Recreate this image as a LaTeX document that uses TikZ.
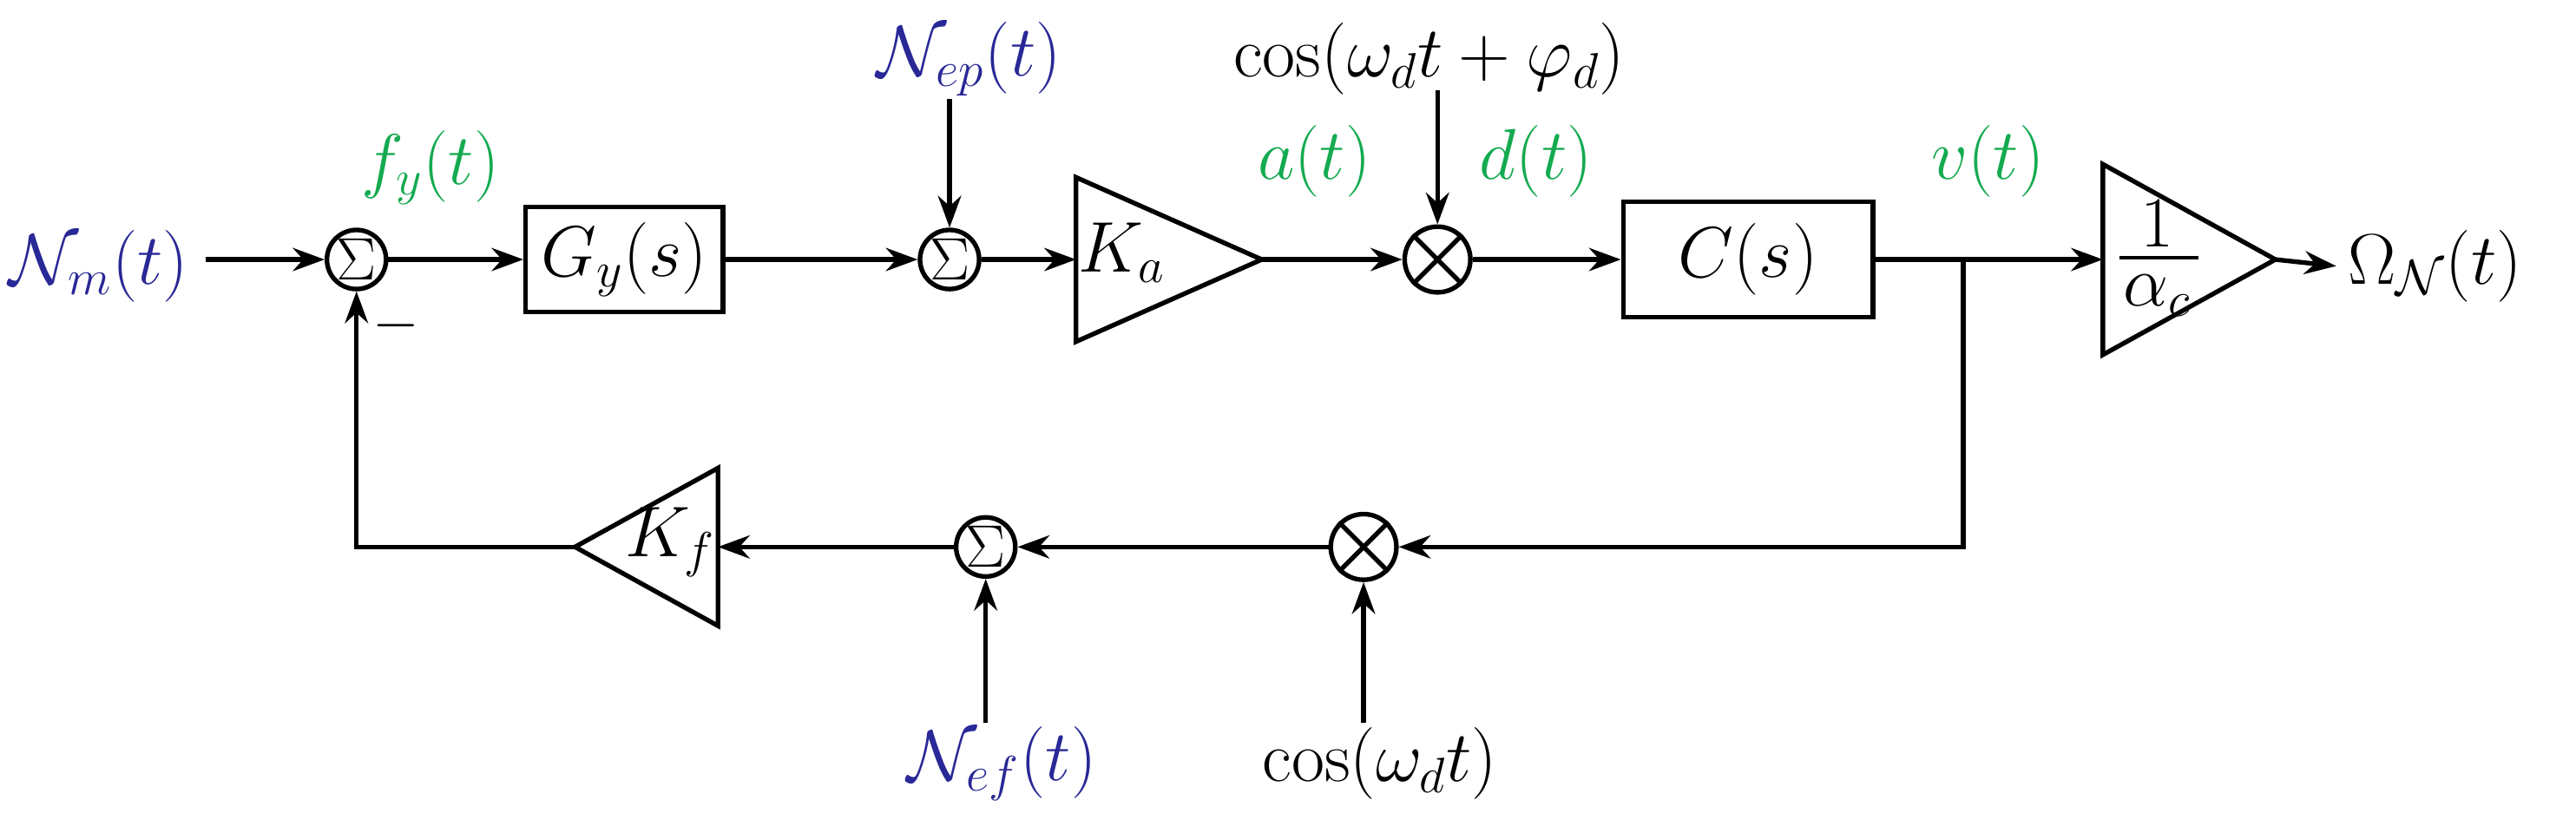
\documentclass[tikz,border=0pt]{standalone}
\usetikzlibrary{arrows.meta}
\definecolor{nb}{RGB}{40,40,150}
\definecolor{gr}{RGB}{20,170,80}
\begin{document}
\begin{tikzpicture}[x=0.02cm,y=-0.02cm,
  line width=1.6pt,
  >={Stealth[length=11pt,width=8pt]},
  lab/.style={font=\fontsize{25}{30}\selectfont},
  sumc/.style={circle,draw,minimum size=36*0.02cm,inner sep=0pt,font=\fontsize{22}{24}\selectfont},
  mulc/.style={circle,draw,minimum size=40*0.02cm,inner sep=0pt},
  blk/.style={draw,minimum width=120*0.02cm,minimum height=64*0.02cm,font=\fontsize{25}{30}\selectfont}]
\useasboundingbox (0,0) rectangle (1568,499);
% nodes
\node[sumc] (s1) at (217,158) {$\Sigma$};
\node[blk] (G) at (380,158) {$G_y(s)$};
\node[sumc] (s2) at (578,158) {$\Sigma$};
\draw (655,108) -- (768,158) -- (655,208) -- cycle;
\coordinate (kain) at (655,158); \coordinate (kaout) at (768,158);
\node[lab] (ka) at (683,154) {$K_a$};
\node[mulc] (m1) at (875,158) {};
\draw (m1.north west) -- (m1.south east) (m1.north east) -- (m1.south west);
\node[blk,minimum width=152*0.02cm,minimum height=70*0.02cm] (C) at (1064,158) {$C(s)$};
\draw (1280,100) -- (1385,158) -- (1280,216) -- cycle;
\coordinate (ain) at (1280,158); \coordinate (aout) at (1385,158);
\node[lab] (one) at (1313,136) {$1$};
\node[lab] (alc) at (1313,180) {$\alpha_c$};
\draw[line width=1.3pt] (1290,157) -- (1338,157);
\coordinate (j) at (1195,158);
\node[mulc] (m2) at (830,333) {};
\draw (m2.north west) -- (m2.south east) (m2.north east) -- (m2.south west);
\node[sumc] (s3) at (600,333) {$\Sigma$};
\draw (437,285) -- (350,333) -- (437,381) -- cycle;
\coordinate (kfin) at (437,333); \coordinate (kfout) at (350,333);
\node[lab] (kf) at (408,330) {$K_f$};
% labels
\node[lab,text=nb] (nm) at (60,162) {$\mathcal{N}_m(t)$};
\node[lab,text=gr] (fy) at (262,102) {$f_y(t)$};
\node[lab,text=nb] (nep) at (590,36) {$\mathcal{N}_{ep}(t)$};
\node[lab] (cp) at (870,36) {$\cos(\omega_d t+\varphi_d)$};
\node[lab,text=gr] (at) at (800,98) {$a(t)$};
\node[lab,text=gr] (dt) at (935,98) {$d(t)$};
\node[lab,text=gr] (vt) at (1210,98) {$v(t)$};
\node[lab,anchor=west] (om) at (1422,162) {$\Omega_{\mathcal N}(t)$};
\node[lab] (cd) at (840,465) {$\cos(\omega_d t)$};
\node[lab,text=nb] (nef) at (610,465) {$\mathcal{N}_{ef}(t)$};
\node[font=\fontsize{20}{22}\selectfont] (mn) at (241,198) {$-$};
\coordinate (a1) at (578,60); \coordinate (a2) at (875,55);
\coordinate (a3) at (830,440); \coordinate (a4) at (600,440);
% connectors
\draw[->] (125,158) -- (s1);
\draw[->] (s1) -- (G);
\draw[->] (G) -- (s2);
\draw[->] (s2) -- (kain);
\draw[->] (a1) -- (s2);
\draw[->] (kaout) -- (m1);
\draw[->] (a2) -- (m1);
\draw[->] (m1) -- (C);
\draw (C) -- (j);
\draw[->] (j) -- (ain);
\draw[->] (aout) -- (om.west);
\draw[->] (j) |- (m2);
\draw[->] (a3) -- (m2);
\draw[->] (m2) -- (s3);
\draw[->] (a4) -- (s3);
\draw[->] (s3) -- (kfin);
\draw[->] (kfout) -| (s1);
\end{tikzpicture}
\end{document}
